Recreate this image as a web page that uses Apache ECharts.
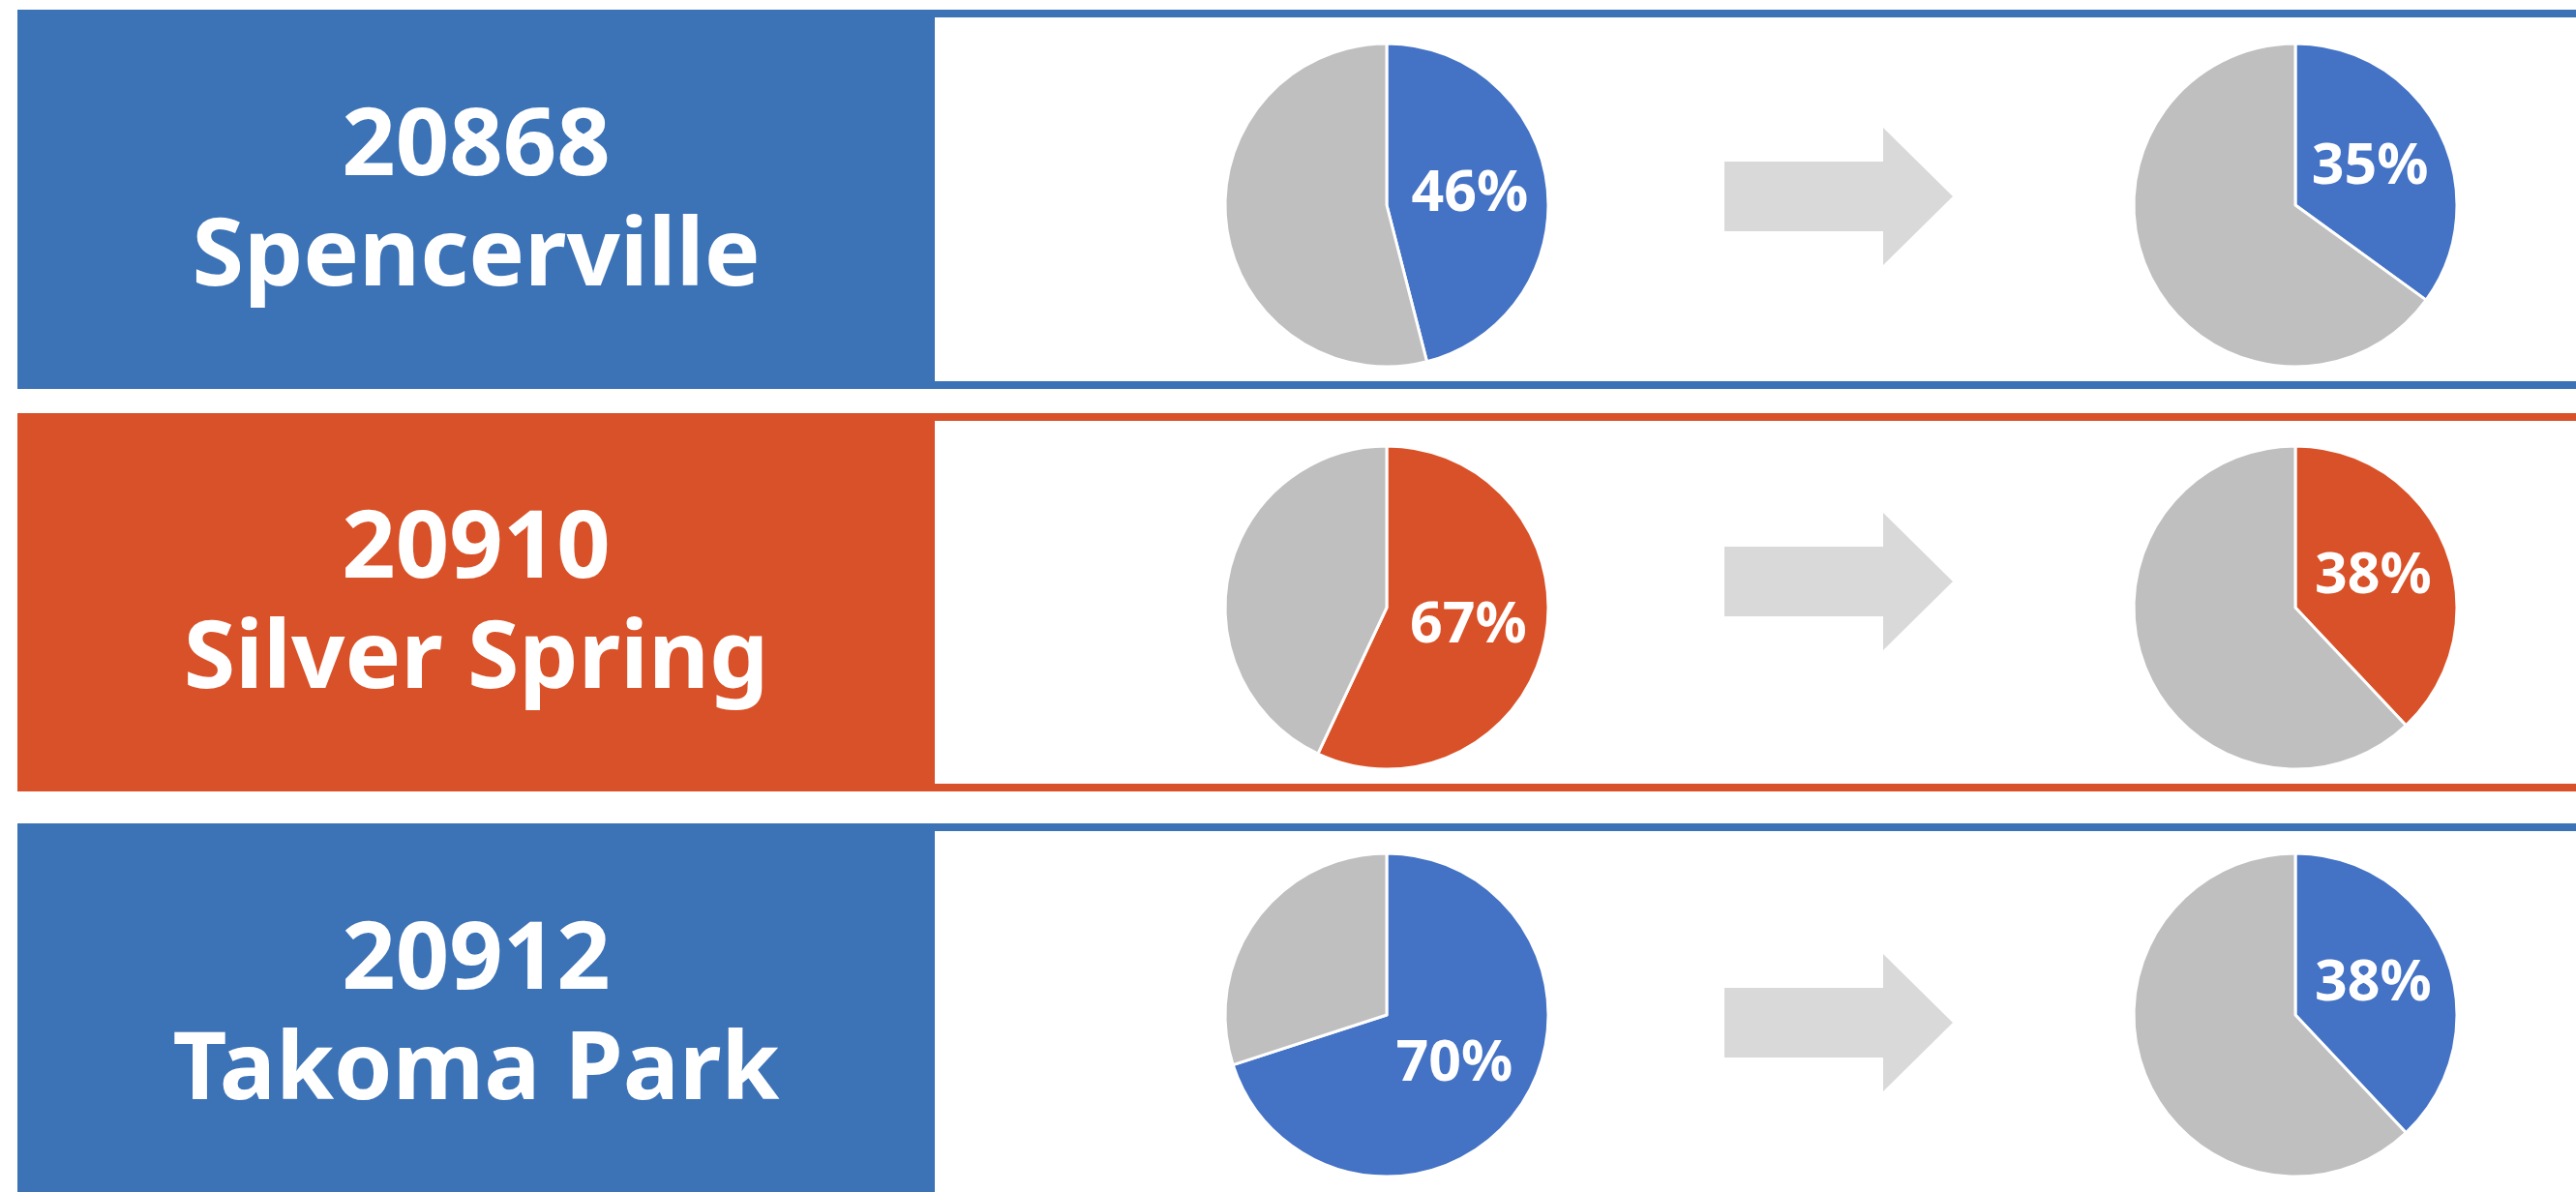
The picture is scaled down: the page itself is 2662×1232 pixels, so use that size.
<!DOCTYPE html>
<html>
<head>
<meta charset="utf-8">
<script src="https://cdn.jsdelivr.net/npm/echarts@6/dist/echarts.min.js"></script>
<style>
html,body{margin:0;padding:0;background:#fff;}
#chart{width:2662px;height:1232px;}
</style>
</head>
<body>
<div id="chart"></div>
<script>
// ---- data ----
const zips = ['20868', '20910', '20912'];
const places = ['Spencerville', 'Silver Spring', 'Takoma Park'];
// slice sizes as drawn in the picture
const beforeShare = [46, 57, 70];
const beforeOther = [54, 43, 30];
const afterShare = [35, 38, 38];
const afterOther = [65, 62, 62];
// label texts as printed in the picture
const beforeLabels = ['46%', '67%', '70%'];
const afterLabels = ['35%', '38%', '38%'];

// ---- layout / style ----
const rowTops = [10, 427, 851];
const rowHeights = [392, 391, 392];
const pieCY = [212, 628, 1049];
const arrowCY = [203, 601, 1057];
const bandColors = ['#3C72B6', '#D95128', '#3C72B6'];
const sliceColors = ['#4472C4', '#D95128', '#4472C4'];
const greyColor = '#BFBFBF';
const arrowColor = '#D9D9D9';
const pieX = [1433, 2372];
const pieR = 167;

const chart = echarts.init(document.getElementById('chart'), null, {renderer: 'canvas'});

const graphics = [];
const series = [];
for (let i = 0; i < zips.length; i++) {
  const top = rowTops[i], h = rowHeights[i];
  graphics.push({type: 'rect', z: 0, shape: {x: 18, y: top, width: 2800, height: h}, style: {fill: bandColors[i]}});
  graphics.push({type: 'rect', z: 1, shape: {x: 966, y: top + 8, width: 2000, height: h - 16}, style: {fill: '#fff'}});
  const cy = arrowCY[i];
  graphics.push({type: 'polygon', z: 2, shape: {points: [
    [1782, cy - 36], [1946, cy - 36], [1946, cy - 71], [2018, cy],
    [1946, cy + 71], [1946, cy + 36], [1782, cy + 36]
  ]}, style: {fill: arrowColor}});
  graphics.push({type: 'text', z: 3, x: 492, y: top + h / 2 + 4, style: {
    text: zips[i] + '\n' + places[i], fill: '#fff',
    fontFamily: 'Noto Sans', fontWeight: 'bold', fontSize: 97, lineHeight: 114,
    align: 'center', verticalAlign: 'middle'
  }});

  const pies = [
    [beforeShare[i], beforeOther[i], beforeLabels[i]],
    [afterShare[i], afterOther[i], afterLabels[i]]
  ];
  pies.forEach((p, k) => {
    const labelText = p[2];
    series.push({
      type: 'pie',
      z: 5,
      center: [pieX[k], pieCY[i]],
      radius: pieR,
      startAngle: 90,
      clockwise: true,
      animation: false,
      silent: true,
      avoidLabelOverlap: false,
      itemStyle: {borderColor: '#fff', borderWidth: 3},
      label: {
        show: true, position: 'inside', formatter: () => labelText,
        color: '#fff', fontFamily: 'Noto Sans', fontWeight: 'bold', fontSize: 59
      },
      labelLine: {show: false},
      emphasis: {disabled: true},
      data: [
        {value: p[0], name: 'share', itemStyle: {color: sliceColors[i]}},
        {value: p[1], name: 'other', itemStyle: {color: greyColor}, label: {show: false}}
      ]
    });
  });
}

chart.setOption({
  backgroundColor: '#fff',
  animation: false,
  graphic: graphics,
  series: series
});
</script>
</body>
</html>
